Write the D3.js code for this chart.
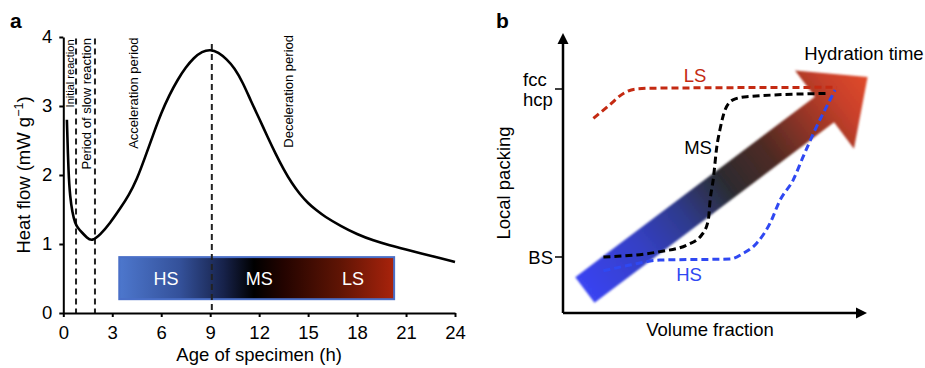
<!DOCTYPE html>
<html>
<head>
<meta charset="utf-8">
<script src="https://cdn.jsdelivr.net/npm/d3@7"></script>
<style>
  body { margin: 0; background: #fff; }
  text { font-family: "Liberation Sans", Arial, Helvetica, sans-serif; }
</style>
</head>
<body>
<div id="chart"></div>
<script>
// ---- panel a : heat flow vs age ----
var hours    = [0.22, 0.32, 0.42, 0.55, 0.72, 0.9, 1.13, 1.45, 1.75, 2.25, 2.86, 3.5, 4.0, 4.5, 5.0, 5.5, 6.0, 6.5, 7.0, 7.5, 8.0, 8.5, 9.0,
                9.5, 10.0, 10.5, 11.0, 11.5, 12.0, 12.5, 13.0, 13.5, 14.0, 14.5, 15.0, 15.5, 16, 17, 18, 19, 20, 21, 22, 23, 24];
var heatFlow = [2.8, 2.0, 1.68, 1.46, 1.3, 1.23, 1.17, 1.09, 1.04, 1.13, 1.3, 1.52, 1.7, 1.93, 2.25, 2.58, 2.9, 3.16, 3.38, 3.56, 3.7, 3.79, 3.82,
                3.78, 3.68, 3.55, 3.34, 3.07, 2.82, 2.56, 2.31, 2.08, 1.88, 1.72, 1.59, 1.49, 1.40, 1.26, 1.14, 1.05, 0.98, 0.92, 0.86, 0.8, 0.74];
var phaseLines  = [0.78, 1.94, 9.1];
var phaseLabels = ["Initial reaction", "Period of slow reaction", "Acceleration period", "Deceleration period"];
var xTicksA = [0, 3, 6, 9, 12, 15, 18, 21, 24];
var yTicksA = [0, 1, 2, 3, 4];
var stateLabels = ["HS", "MS", "LS"];

// ---- panel b : local packing vs volume fraction (schematic) ----
var lsCurve = [[0.10, 0.825], [0.15, 0.90], [0.20, 0.975], [0.24, 1.0], [0.30, 1.005], [0.90, 1.01]];
var msCurve = [[0.133, 0.0], [0.319, 0.032], [0.407, 0.071], [0.456, 0.131], [0.478, 0.22], [0.484, 0.339], [0.494, 0.458],
               [0.506, 0.657], [0.516, 0.756], [0.533, 0.875], [0.559, 0.935], [0.604, 0.954], [0.867, 0.974]];
var hsCurve = [[0.133, -0.082], [0.22, -0.048], [0.319, -0.018], [0.549, -0.012], [0.593, 0.022], [0.637, 0.082], [0.681, 0.201],
               [0.714, 0.339], [0.757, 0.458], [0.79, 0.597], [0.834, 0.776], [0.867, 0.895], [0.895, 0.994]];
var packingTicks = [["fcc", "hcp"], ["BS"]];
var arrowTail = [0.072, -0.196];
var arrowTip  = [1.002, 1.071];

var width = 925, height = 368;
var fs = 18.5;
var svg = d3.select("#chart").append("svg")
    .attr("width", width)
    .attr("height", height);
var defs = svg.append("defs");

// ================= panel a =================
var x = d3.scaleLinear().domain([0, 24]).range([63.3, 455]);
var y = d3.scaleLinear().domain([0, 4]).range([313, 37]);

svg.append("text").attr("x", 10).attr("y", 28)
    .attr("font-size", 21).attr("font-weight", "bold").text("a");

// gradient state box
var boxGrad = defs.append("linearGradient").attr("id", "boxGrad")
    .attr("x1", "0%").attr("x2", "100%").attr("y1", "0%").attr("y2", "0%");
[[0, "#4d77cd"], [0.22, "#34519a"], [0.38, "#17224a"], [0.49, "#000000"], [0.6, "#240400"], [0.8, "#5e1404"], [1, "#a9230c"]]
    .forEach(function (s) { boxGrad.append("stop").attr("offset", s[0]).attr("stop-color", s[1]); });

var boxX0 = 3.43, boxX1 = 20.27, boxY0 = 0.2, boxY1 = 0.81;
svg.append("rect")
    .attr("x", x(boxX0)).attr("y", y(boxY1))
    .attr("width", x(boxX1) - x(boxX0)).attr("height", y(boxY0) - y(boxY1))
    .style("fill", "url(#boxGrad)")
    .style("stroke", "#4a6fc7")
    .style("stroke-width", 2);

var boxMid = (boxY0 + boxY1) / 2;
svg.selectAll(".state")
    .data(stateLabels)
  .enter().append("text")
    .attr("class", "state")
    .attr("x", function (d, i) { return x([6.3, 12.0, 17.75][i]); })
    .attr("y", y(boxMid))
    .attr("dy", "0.36em")
    .attr("text-anchor", "middle")
    .attr("font-size", 18)
    .attr("fill", "#fff")
    .text(function (d) { return d; });

// phase dashed lines
svg.selectAll(".phase")
    .data(phaseLines)
  .enter().append("line")
    .attr("class", "phase")
    .attr("x1", function (d) { return x(d); })
    .attr("x2", function (d) { return x(d); })
    .attr("y1", function (d, i) { return i < 2 ? y(3.98) : y(3.9); })
    .attr("y2", y(0))
    .style("stroke", "#222")
    .style("stroke-width", 2)
    .style("stroke-dasharray", "6,4");

// rotated phase labels
var labelPos = [[74, 39.5, 11], [91, 38, 13], [137.7, 37.5, 13], [292.7, 35, 13]];
svg.selectAll(".plabel")
    .data(phaseLabels)
  .enter().append("text")
    .attr("class", "plabel")
    .attr("transform", function (d, i) { return "translate(" + labelPos[i][0] + "," + labelPos[i][1] + ") rotate(-90)"; })
    .attr("text-anchor", "end")
    .attr("font-size", function (d, i) { return labelPos[i][2]; })
    .text(function (d) { return d; });

// curve
var line = d3.line()
    .x(function (d) { return x(d[0]); })
    .y(function (d) { return y(d[1]); })
    .curve(d3.curveBasis);
svg.append("path")
    .datum(hours.map(function (h, i) { return [h, heatFlow[i]]; }))
    .attr("d", line)
    .style("fill", "none")
    .style("stroke", "#000")
    .style("stroke-width", 2.6);

// axes
var xAxis = svg.append("g").attr("transform", "translate(0," + y(0) + ")")
    .call(d3.axisBottom(x).tickValues(xTicksA).tickSize(4).tickSizeOuter(0).tickPadding(9).tickFormat(d3.format("d")));
var yAxis = svg.append("g").attr("transform", "translate(" + x(0) + ",0)")
    .call(d3.axisLeft(y).tickValues(yTicksA).tickSize(4).tickSizeOuter(0).tickPadding(7).tickFormat(d3.format("d")));
[xAxis, yAxis].forEach(function (g) {
    g.selectAll("path, line").style("stroke", "#000").style("stroke-width", 2);
    g.selectAll("text").attr("font-size", fs).style("font-family", "Liberation Sans, Arial, sans-serif").attr("fill", "#000");
});

svg.append("text")
    .attr("x", (x(0) + x(24)) / 2).attr("y", 361)
    .attr("text-anchor", "middle").attr("font-size", fs)
    .text("Age of specimen (h)");

var yl = svg.append("text")
    .attr("transform", "translate(29.5,175) rotate(-90)")
    .attr("text-anchor", "middle").attr("font-size", fs);
yl.append("tspan").text("Heat flow (mW g");
yl.append("tspan").attr("font-size", 12.5).attr("dy", -7).text("\u22121");
yl.append("tspan").attr("dy", 7).text(")");

// ================= panel b =================
var xb = d3.scaleLinear().domain([0, 1]).range([563, 867]);
var yb = d3.scaleLinear().domain([0, 1]).range([257, 89]);

svg.append("text").attr("x", 496).attr("y", 28)
    .attr("font-size", 21).attr("font-weight", "bold").text("b");

// big hydration arrow
var T = [xb(arrowTail[0]), yb(arrowTail[1])];
var P = [xb(arrowTip[0]), yb(arrowTip[1])];
var len = Math.hypot(P[0] - T[0], P[1] - T[1]);
var u = [(P[0] - T[0]) / len, (P[1] - T[1]) / len];
var n = [-u[1], u[0]];
var headLen = 54, shaftHalf = 16, headHalf = 49;
var B = [P[0] - u[0] * headLen, P[1] - u[1] * headLen];
function off(p, k) { return [p[0] + n[0] * k, p[1] + n[1] * k]; }
var arrowPts = [off(T, shaftHalf), off(B, shaftHalf), off(B, headHalf), P, off(B, -headHalf), off(B, -shaftHalf), off(T, -shaftHalf)];

var arrGrad = defs.append("linearGradient").attr("id", "arrGrad")
    .attr("gradientUnits", "userSpaceOnUse")
    .attr("x1", T[0]).attr("y1", T[1]).attr("x2", P[0]).attr("y2", P[1]);
[[0, "#3a44f2"], [0.2, "#3540c4"], [0.35, "#2e3a8c"], [0.5, "#2c2c30"], [0.65, "#4e2a24"], [0.8, "#9a3626"], [0.9, "#c8402a"], [1, "#e04a2c"]]
    .forEach(function (s) { arrGrad.append("stop").attr("offset", s[0]).attr("stop-color", s[1]); });

var shadow = defs.append("filter").attr("id", "soft").attr("x", "-10%").attr("y", "-10%").attr("width", "120%").attr("height", "120%");
shadow.append("feGaussianBlur").attr("stdDeviation", 0.8);

svg.append("polygon")
    .attr("points", arrowPts.map(function (p) { return p.join(","); }).join(" "))
    .style("fill", "url(#arrGrad)")
    .attr("filter", "url(#soft)");

// dashed curves
var lineB = d3.line()
    .x(function (d) { return xb(d[0]); })
    .y(function (d) { return yb(d[1]); })
    .curve(d3.curveMonotoneX);
var curvesB = [[lsCurve, "#c42a12"], [msCurve, "#000"], [hsCurve, "#2f48f2"]];
svg.selectAll(".dcurve")
    .data(curvesB)
  .enter().append("path")
    .attr("class", "dcurve")
    .attr("d", function (d) { return lineB(d[0]); })
    .style("fill", "none")
    .style("stroke", function (d) { return d[1]; })
    .style("stroke-width", 3)
    .style("stroke-dasharray", "7,4");

// axes with arrowheads
svg.append("line").attr("x1", xb(0)).attr("x2", xb(0)).attr("y1", yb(-0.333)).attr("y2", yb(1.28))
    .style("stroke", "#000").style("stroke-width", 2.5);
svg.append("line").attr("x1", xb(0)).attr("x2", xb(0.97)).attr("y1", yb(-0.333)).attr("y2", yb(-0.333))
    .style("stroke", "#000").style("stroke-width", 2.5);
svg.append("polygon")
    .attr("points", [[xb(0), 33], [xb(0) - 5.5, 44], [xb(0) + 5.5, 44]].map(function (p) { return p.join(","); }).join(" "))
    .style("fill", "#000");
svg.append("polygon")
    .attr("points", [[xb(1), yb(-0.333)], [xb(1) - 11, yb(-0.333) - 5.5], [xb(1) - 11, yb(-0.333) + 5.5]].map(function (p) { return p.join(","); }).join(" "))
    .style("fill", "#000");

// ticks on packing axis
svg.selectAll(".ptick")
    .data([1, 0])
  .enter().append("line")
    .attr("class", "ptick")
    .attr("x1", xb(0) - 8).attr("x2", xb(0))
    .attr("y1", function (d) { return yb(d); })
    .attr("y2", function (d) { return yb(d); })
    .style("stroke", "#000").style("stroke-width", 1.5);

svg.append("text").attr("x", 523).attr("y", yb(1) - 3).attr("font-size", fs).text(packingTicks[0][0]);
svg.append("text").attr("x", 523).attr("y", yb(1) + 17).attr("font-size", fs).text(packingTicks[0][1]);
svg.append("text").attr("x", 553).attr("y", yb(0)).attr("dy", "0.36em")
    .attr("text-anchor", "end").attr("font-size", fs).text(packingTicks[1][0]);

// curve labels
svg.append("text").attr("x", 695).attr("y", 81.5).attr("text-anchor", "middle")
    .attr("font-size", fs).attr("fill", "#c42a12").text("LS");
svg.append("text").attr("x", 698).attr("y", 154).attr("text-anchor", "middle")
    .attr("font-size", fs).attr("fill", "#000").text("MS");
svg.append("text").attr("x", 689).attr("y", 281).attr("text-anchor", "middle")
    .attr("font-size", fs).attr("fill", "#2f48f2").text("HS");
svg.append("text").attr("x", 864).attr("y", 60).attr("text-anchor", "middle")
    .attr("font-size", fs).text("Hydration time");

svg.append("text").attr("x", 710).attr("y", 336).attr("text-anchor", "middle")
    .attr("font-size", fs).text("Volume fraction");
svg.append("text").attr("transform", "translate(509.5,183) rotate(-90)")
    .attr("text-anchor", "middle").attr("font-size", fs).text("Local packing");
</script>
</body>
</html>
